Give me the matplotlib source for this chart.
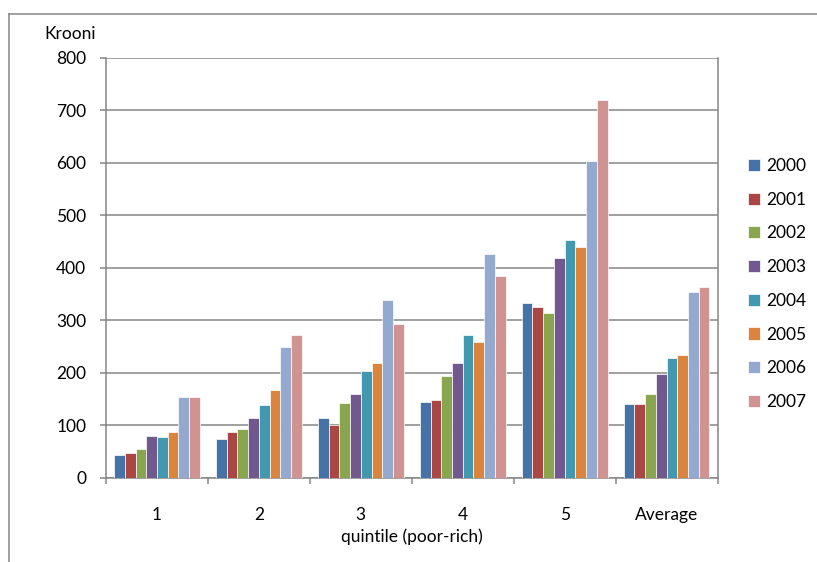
import numpy as np
import matplotlib.pyplot as plt
from matplotlib.lines import Line2D

plt.rcParams['font.family'] = ['Lato', 'DejaVu Sans']

categories = ['1', '2', '3', '4', '5', 'Average']
years = ['2000', '2001', '2002', '2003', '2004', '2005', '2006', '2007']

# spending by quintile, one list per year
v2000 = [43, 74, 113, 144, 332, 141]
v2001 = [46, 86, 100, 148, 326, 141]
v2002 = [55, 92, 142, 194, 313, 160]
v2003 = [80, 114, 160, 218, 418, 197]
v2004 = [77, 138, 203, 271, 452, 227]
v2005 = [86, 166, 218, 259, 440, 234]
v2006 = [154, 249, 339, 426, 603, 354]
v2007 = [154, 271, 293, 385, 719, 363]
series = [v2000, v2001, v2002, v2003, v2004, v2005, v2006, v2007]

colors = ['#4572A7', '#AA4643', '#89A54E', '#71588F',
          '#4198AF', '#DB843D', '#93A9CF', '#D19392']
grey = '#868686'

fig = plt.figure(figsize=(8.17, 5.62), dpi=100)
ax = fig.add_axes([106 / 817, 1 - 477.5 / 562, (717.5 - 106) / 817, (477.5 - 58) / 562])

n = len(series)
width = 1 / (n + 1.5)  # gap of 1.5 bar widths between groups
x = np.arange(len(categories))
bars = []
for i, (vals, c) in enumerate(zip(series, colors)):
    offs = (i - (n - 1) / 2) * width
    b = ax.bar(x + offs, vals, width, color=c, edgecolor='white',
               linewidth=0.5, label=years[i], zorder=3)
    bars.append(b)

ax.set_xlim(-0.5, len(categories) - 0.5)
ax.set_ylim(0, 800)
ax.set_yticks(range(0, 801, 100))
ax.yaxis.grid(True, color=grey, linewidth=1.1, zorder=0)

# ticks sit between the groups, labels in the middle
ax.set_xticks(np.arange(len(categories) + 1) - 0.5)
ax.set_xticklabels([])
ax.set_xticks(x, minor=True)
ax.set_xticklabels(categories, minor=True)
ax.tick_params(axis='x', which='major', direction='out', length=4.3, color=grey, width=1.1)
ax.tick_params(axis='x', which='minor', length=0, pad=21, labelsize=12.5)
ax.tick_params(axis='y', direction='out', length=4.3, color=grey, width=1.1,
               pad=10, labelsize=12.5)

for s in ['left', 'bottom', 'right']:
    ax.spines[s].set_color(grey)
    ax.spines[s].set_linewidth(1.1)
ax.spines['top'].set_visible(False)

ax.set_xlabel('quintile (poor-rich)', fontsize=12.5, labelpad=4)
fig.text(70 / 817, 1 - 34 / 562, 'Krooni', fontsize=12.5, ha='center', va='center')

fig.legend(handles=bars, labels=years, loc='upper left',
           bbox_to_anchor=(748 / 817, 1 - 158 / 562), frameon=False,
           fontsize=12.5, handlelength=0.7, handleheight=0.7,
           handletextpad=0.35, labelspacing=1.02, borderpad=0, borderaxespad=0)

# outer chart frame (only top and left edges fall inside the image)
fx = 9 / 817
fy = 1 - 14 / 562
fig.add_artist(Line2D([fx, 1], [fy, fy], color=grey, linewidth=1.1, transform=fig.transFigure))
fig.add_artist(Line2D([fx, fx], [0, fy], color=grey, linewidth=1.1, transform=fig.transFigure))

fig.savefig('out.png', dpi=100)
